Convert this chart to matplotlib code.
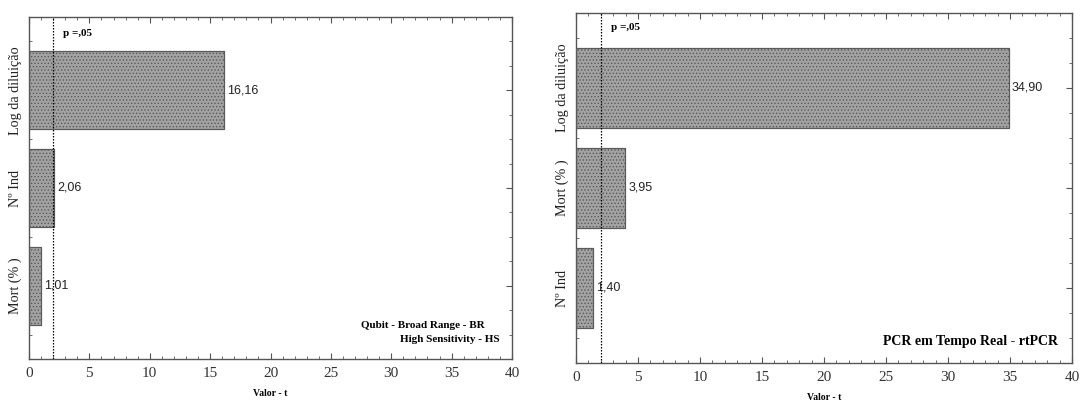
import matplotlib
matplotlib.use("Agg")
import matplotlib.pyplot as plt
from matplotlib.ticker import MultipleLocator

# Data
left_categories = ["Log da diluição", "Nº Ind", "Mort (% )"]
left_values = [16.16, 2.06, 1.01]
left_labels = ["16,16", "2,06", "1,01"]
left_note_1 = "Qubit - Broad Range - BR"
left_note_2 = "High Sensitivity - HS"

right_categories = ["Log da diluição", "Mort (% )", "Nº Ind"]
right_values = [34.90, 3.95, 1.40]
right_labels = ["34,90", "3,95", "1,40"]
right_note = "PCR em Tempo Real - rtPCR"

p_line = 2.0
xticks = [0, 5, 10, 15, 20, 25, 30, 35, 40]

plt.rcParams['hatch.color'] = '#c4c4c4'
plt.rcParams['hatch.linewidth'] = 0.6

fig = plt.figure(figsize=(10.8, 4.01), dpi=100)
axL = fig.add_axes([29/1080, 1-359/401, (512-29)/1080, 342/401])
axR = fig.add_axes([576/1080, 1-363/401, (1072-576)/1080, 350/401])

serif = 'Liberation Serif'
sans = 'Liberation Sans'

def draw(ax, cats, vals, labs, ptxt_y):
    ypos = list(range(len(cats)))
    ax.barh(ypos, vals, height=0.8, color='#a2a2a2', edgecolor='#5a5a5a',
            linewidth=0.8, hatch='.....', zorder=2)
    ax.barh(ypos, vals, height=0.8, facecolor='none', edgecolor='#5a5a5a',
            linewidth=0.8, zorder=3)
    for y, v, t in zip(ypos, vals, labs):
        ax.text(v + 0.25, y, t, va='center', ha='left', fontsize=9,
                family=sans, color='#222222', zorder=4)
    ax.axvline(p_line, color='black', linestyle=(0, (1.2, 1.2)), linewidth=0.9, zorder=5)
    ax.text(p_line + 0.8, ptxt_y, "p =,05", fontsize=8, fontweight='bold',
            family=serif, va='center', ha='left')
    ax.set_xlim(0, 40)
    ax.set_ylim(2.75, -0.75)
    ax.set_xticks(xticks)
    ax.set_xticklabels([str(x) for x in xticks], family=serif, fontsize=11, color='#333333')
    ax.xaxis.set_minor_locator(MultipleLocator(1))
    ax.set_yticks(ypos)
    ax.set_yticklabels(cats, rotation=90, va='center', family=serif, fontsize=10.2, color='#222222')
    ax.yaxis.set_minor_locator(MultipleLocator(0.25))
    ax.tick_params(which='both', direction='in', top=True, right=True, color='#555555')
    ax.tick_params(which='major', length=4, width=0.8)
    ax.tick_params(which='minor', length=2.5, width=0.6)
    ax.tick_params(axis='x', pad=6)
    ax.tick_params(axis='y', pad=5)
    for s in ax.spines.values():
        s.set_color('#555555')
        s.set_linewidth(1.0)
    ax.set_xlabel("Valor - t", family=serif, fontsize=7, fontweight='bold', labelpad=6)

draw(axL, left_categories, left_values, left_labels, -0.58)
draw(axR, right_categories, right_values, right_labels, -0.6)

axL.text((485 - 29) / 483, 1 - (326 - 17) / 342, left_note_1, transform=axL.transAxes,
         ha='right', va='center', fontsize=8, fontweight='bold', family=serif)
axL.text((500 - 29) / 483, 1 - (340 - 17) / 342, left_note_2, transform=axL.transAxes,
         ha='right', va='center', fontsize=8, fontweight='bold', family=serif)
axR.text((1058 - 576) / 496, 1 - (342 - 13) / 350, right_note, transform=axR.transAxes,
         ha='right', va='center', fontsize=10, fontweight='bold', family=serif)

fig.savefig("out.png", dpi=100, facecolor='white')
